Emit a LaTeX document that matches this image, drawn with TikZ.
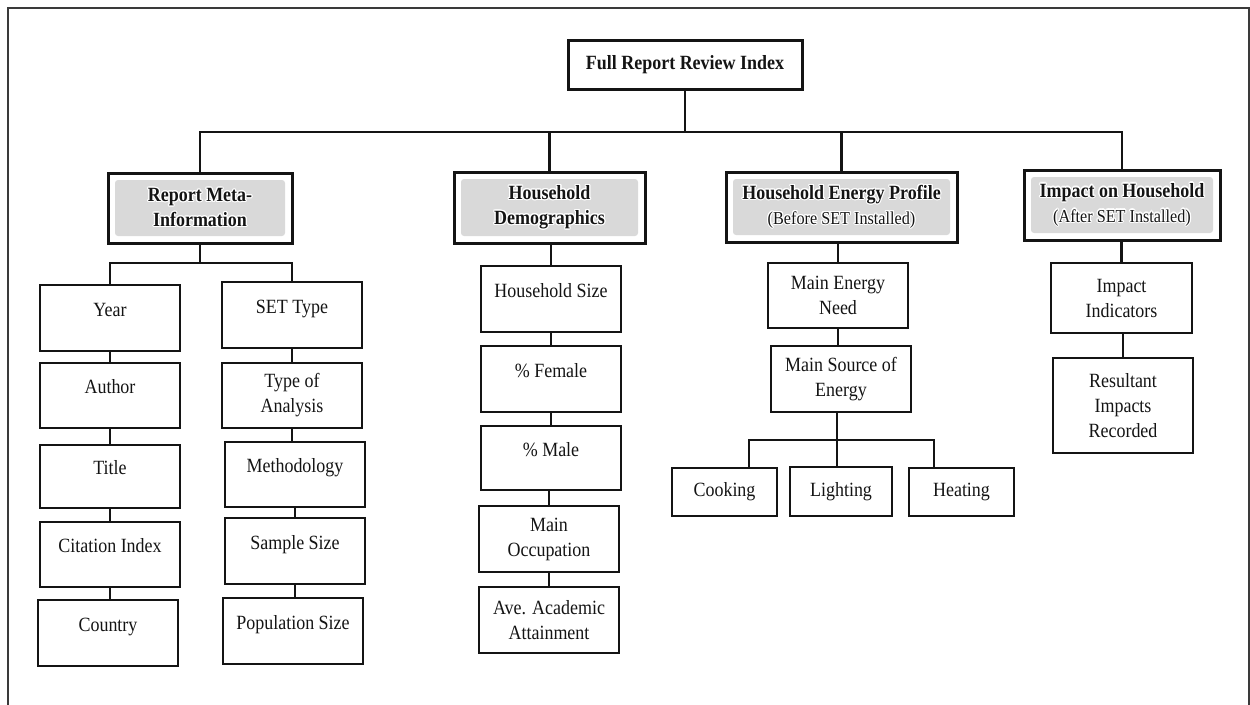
\documentclass[tikz,border=0pt]{standalone}
\usepackage{fontspec}
\setmainfont{Liberation Serif}[FakeStretch=0.89]
\usepackage[copies]{contour}
\contourlength{1.1pt}
\usetikzlibrary{calc}

\definecolor{ink}{HTML}{141414}
\definecolor{framegray}{HTML}{3A3A3A}
\definecolor{hdrgray}{HTML}{D9D9D9}
\newcommand{\glow}[1]{\contour{white}{#1}}

\tikzset{
  frameline/.style={draw=framegray, line width=2pt},
  rootbox/.style={draw=ink, line width=3pt, rectangle, inner sep=0pt,
    font=\bfseries\fontsize{20.2}{25}\selectfont, text=ink},
  header/.style={draw=ink, line width=3pt, rectangle, inner sep=0pt, align=center,
    font=\bfseries\fontsize{20.2}{25}\selectfont, text=ink,
    path picture={\fill[hdrgray, rounded corners=3pt]
      ([shift={(7,7)}]path picture bounding box.north west) rectangle
      ([shift={(-7,-7)}]path picture bounding box.south east);}},
  leaf/.style={draw=ink, line width=2pt, rectangle, inner sep=0pt, align=center,
    font=\fontsize{20.2}{25}\selectfont, text=ink},
  oneline/.style={text height=12pt, text depth=16pt},
  conn/.style={draw=ink, line width=2.7pt},
  subconn/.style={draw=ink, line width=2.4pt},
  thinconn/.style={draw=ink, line width=1.8pt},
}

\begin{document}
\begin{tikzpicture}[x=1pt,y=-1pt]
\useasboundingbox (0,0) rectangle (1250,704);

% outer frame, open at the bottom
\draw[frameline] (8,706) -- (8,7.5) -- (1248.5,7.5) -- (1248.5,706);

% root
\node[rootbox, minimum width=234, minimum height=49] (root) at (685,64.5) {Full Report Review Index};

% first level
\node[header, minimum width=184, minimum height=70] (meta) at (200,208)
  {\glow{Report Meta-}\\\glow{Information}};
\node[header, minimum width=191, minimum height=71] (demo) at (549.5,207.5)
  {\glow{Household}\\\glow{Demographics}};
\node[header, minimum width=231, minimum height=70] (energy) at (841.5,207)
  {\glow{Household Energy Profile}\\\glow{\mdseries\fontsize{18.2}{25}\selectfont (Before SET Installed)}};
\node[header, minimum width=196, minimum height=70] (impact) at (1122,205)
  {\glow{Impact on Household}\\\glow{\mdseries\fontsize{18.2}{25}\selectfont (After SET Installed)}};

% report meta-information
\node[leaf, oneline, minimum width=140, minimum height=66] (year) at (110,318) {Year};
\node[leaf, oneline, minimum width=140, minimum height=65] (author) at (110,395.5) {Author};
\node[leaf, oneline, minimum width=140, minimum height=63] (title) at (110,476.5) {Title};
\node[leaf, oneline, minimum width=140, minimum height=65] (citation) at (110,554.5) {Citation Index};
\node[leaf, oneline, minimum width=140, minimum height=66] (country) at (108,633) {Country};

\node[leaf, oneline, minimum width=140, minimum height=66] (settype) at (292,315) {SET Type};
\node[leaf, minimum width=140, minimum height=65] (analysis) at (292,395.5) {Type of\\Analysis};
\node[leaf, oneline, minimum width=140, minimum height=65] (method) at (295,474.5) {Methodology};
\node[leaf, oneline, minimum width=140, minimum height=66] (sample) at (295,551) {Sample Size};
\node[leaf, oneline, minimum width=140, minimum height=66] (population) at (293,631) {Population Size};

% household demographics
\node[leaf, oneline, minimum width=140, minimum height=66] (hsize) at (551,299) {Household Size};
\node[leaf, oneline, minimum width=140, minimum height=66] (female) at (551,379) {\% Female};
\node[leaf, oneline, minimum width=140, minimum height=64] (male) at (551,458) {\% Male};
\node[leaf, minimum width=140, minimum height=66] (occup) at (549,539) {Main\\Occupation};
\node[leaf, minimum width=140, minimum height=66] (acad) at (549,620) {Ave. Academic\\Attainment};

% household energy profile
\node[leaf, minimum width=140, minimum height=65] (need) at (838,295.5) {Main Energy\\Need};
\node[leaf, minimum width=140, minimum height=66] (source) at (841,379) {Main Source of\\Energy};
\node[leaf, minimum width=105, minimum height=48] (cook) at (724.5,492) {Cooking};
\node[leaf, minimum width=102, minimum height=49] (light) at (841,491.5) {Lighting};
\node[leaf, minimum width=105, minimum height=48] (heat) at (961.5,492) {Heating};

% impact on household
\node[leaf, minimum width=141, minimum height=70] (indic) at (1121.5,298) {Impact\\Indicators};
\node[leaf, minimum width=140, minimum height=95] (result) at (1123,405.5) {Resultant\\Impacts\\Recorded};

% root to first level
\coordinate (bus) at (685,132);
\draw[conn] (root.south) -- (bus);
\foreach \n in {meta,demo,energy,impact}
  \draw[conn] (\n.north) |- (bus);

% meta-information columns
\coordinate (metabus) at (200,263);
\draw[subconn] (meta.south) -- (metabus);
\draw[subconn] (year.north) |- (metabus) -| (settype.north);
\draw[subconn] (year.south) -- (year.south |- author.north);
\draw[subconn] (author.south) -- (author.south |- title.north);
\draw[subconn] (title.south) -- (title.south |- citation.north);
\draw[subconn] (citation.south) -- (citation.south |- country.north);
\draw[subconn] (settype.south) -- (settype.south |- analysis.north);
\draw[subconn] (analysis.south) -- (analysis.south |- method.north);
\draw[subconn] (method.south) -- (method.south |- sample.north);
\draw[subconn] (sample.south) -- (sample.south |- population.north);

% demographics column
\draw[subconn] (hsize.north |- demo.south) -- (hsize.north);
\draw[subconn] (hsize.south) -- (hsize.south |- female.north);
\draw[subconn] (female.south) -- (female.south |- male.north);
\draw[subconn] (occup.north |- male.south) -- (occup.north);
\draw[subconn] (occup.south) -- (occup.south |- acad.north);

% energy profile column
\draw[subconn] (need.north |- energy.south) -- (need.north);
\draw[subconn] (need.south) -- (need.south |- source.north);
\coordinate (ebus) at (837,440);
\draw[subconn] (source.south -| ebus) -- (ebus);
\draw[thinconn] ([xshift=24.5pt]cook.north) |- (ebus) -| ([xshift=-27.5pt]heat.north);
\draw[thinconn] (ebus) -- (ebus |- light.north);

% impact column
\draw[subconn] (indic.north |- impact.south) -- (indic.north);
\draw[conn] (indic.south -| result.north) -- (result.north);
\end{tikzpicture}
\end{document}
